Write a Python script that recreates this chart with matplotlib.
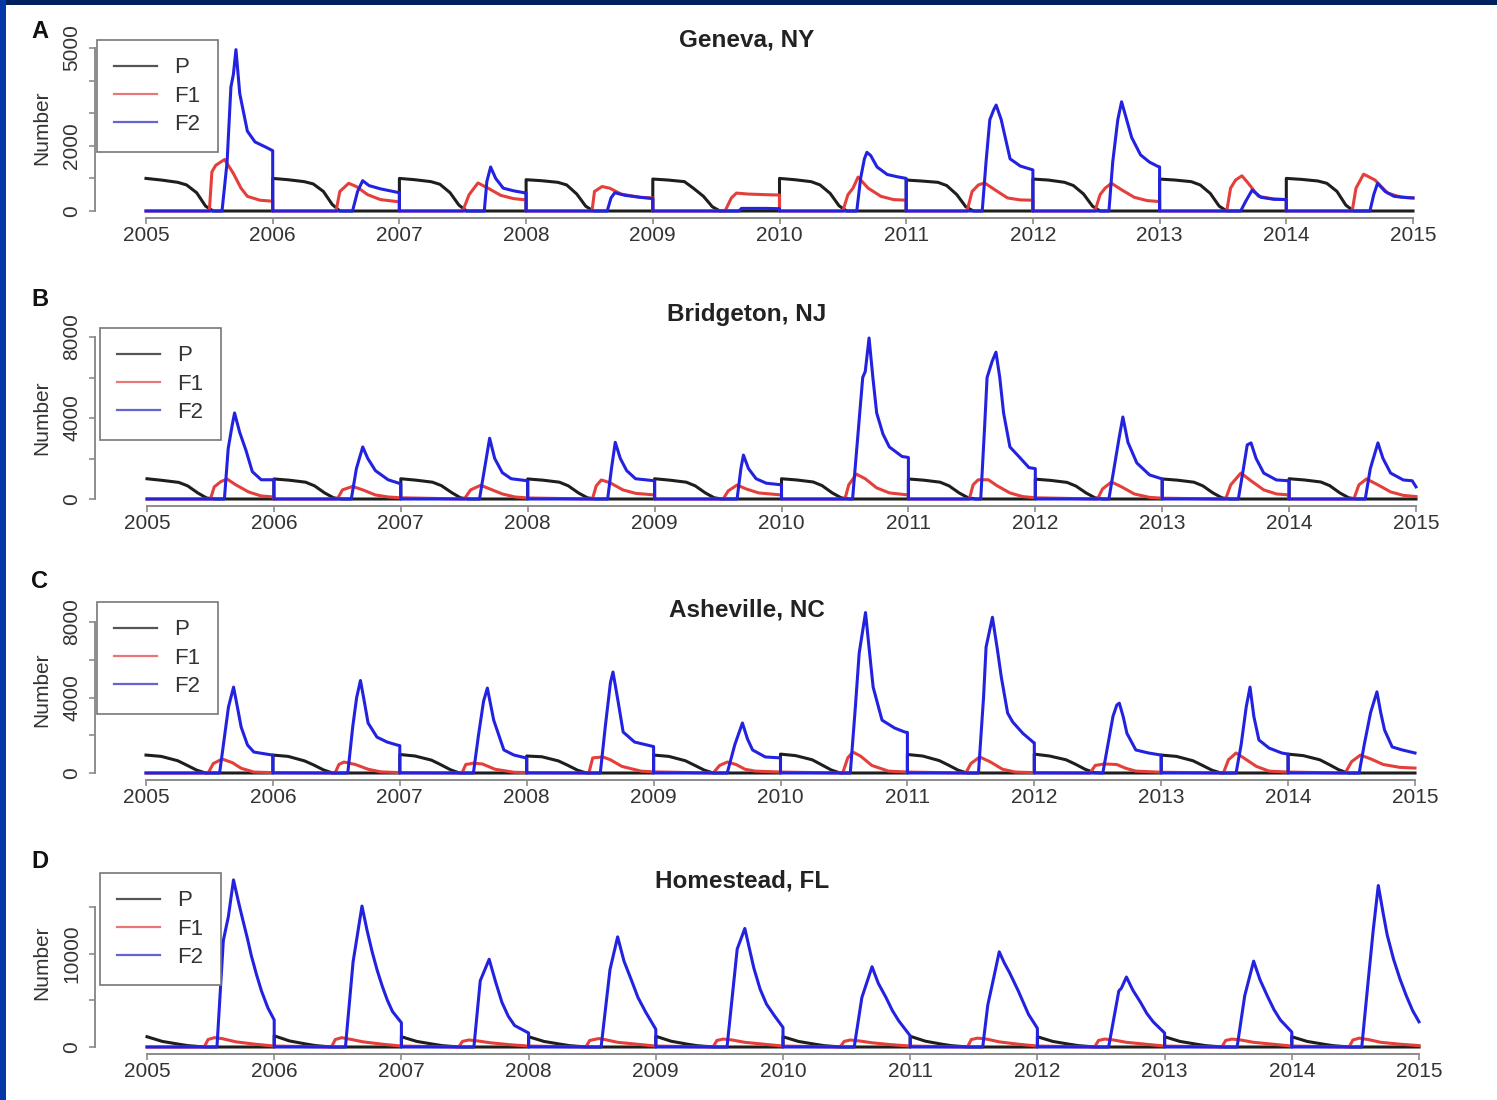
import numpy as np
import matplotlib
matplotlib.use('Agg')
import matplotlib.pyplot as plt
from matplotlib.lines import Line2D
from matplotlib.patches import Rectangle

plt.rcParams['font.family'] = ['Liberation Sans', 'DejaVu Sans']

W, H = 1497, 1100
YEARS = list(range(2005, 2015))
XTICKS = list(range(2005, 2016))

# --- data ----------------------------------------------------------------
# P: values at fixed times within each year (fraction of year)
P_T = [0, 0.12, 0.25, 0.32, 0.40, 0.47, 0.53]

A_P = [[1000, 950, 880, 800, 560, 150, 0],
       [1000, 960, 900, 830, 600, 200, 0],
       [1000, 960, 900, 820, 560, 180, 0],
       [960, 930, 880, 800, 520, 150, 0],
       [980, 950, 900, 700, 450, 130, 0],
       [1000, 960, 900, 800, 540, 160, 0],
       [950, 920, 880, 780, 500, 130, 0],
       [980, 950, 880, 780, 520, 150, 0],
       [980, 950, 900, 800, 540, 150, 0],
       [1000, 970, 920, 850, 600, 180, 0]]
A_F1 = [(2005.5, 0), (2005.52, 1200), (2005.55, 1400), (2005.62, 1580), (2005.69, 1150), (2005.75, 700),
        (2005.8, 450), (2005.9, 330), (2006.0, 300), (2006.0, 0),
        (2006.5, 0), (2006.53, 600), (2006.6, 850), (2006.66, 750), (2006.75, 500), (2006.85, 350),
        (2007.0, 280), (2007.0, 0),
        (2007.5, 0), (2007.55, 500), (2007.62, 860), (2007.7, 700), (2007.8, 480), (2007.9, 380),
        (2008.0, 340), (2008.0, 0),
        (2008.52, 0), (2008.54, 600), (2008.6, 750), (2008.66, 700), (2008.75, 520), (2008.9, 420),
        (2009.0, 400), (2009.0, 0),
        (2009.57, 0), (2009.62, 400), (2009.66, 550), (2009.75, 520), (2009.9, 500), (2010.0, 490), (2010.0, 0),
        (2010.5, 0), (2010.54, 500), (2010.58, 700), (2010.62, 1040), (2010.7, 700), (2010.8, 450),
        (2010.9, 350), (2011.0, 330), (2011.0, 0),
        (2011.48, 0), (2011.52, 600), (2011.57, 800), (2011.62, 860), (2011.7, 650), (2011.8, 400),
        (2011.9, 340), (2012.0, 330), (2012.0, 0),
        (2012.49, 0), (2012.53, 500), (2012.57, 700), (2012.62, 850), (2012.7, 650), (2012.8, 420),
        (2012.9, 320), (2013.0, 290), (2013.0, 0),
        (2013.53, 0), (2013.56, 700), (2013.6, 950), (2013.65, 1080), (2013.7, 850), (2013.78, 450),
        (2013.9, 370), (2014.0, 350), (2014.0, 0),
        (2014.52, 0), (2014.55, 700), (2014.61, 1130), (2014.7, 950), (2014.8, 550), (2014.9, 430),
        (2015.0, 400)]
A_F2 = [(2005.6, 0), (2005.64, 1500), (2005.67, 3800), (2005.69, 4200), (2005.71, 4950), (2005.74, 3600),
        (2005.8, 2450), (2005.86, 2120), (2005.95, 1950), (2006.0, 1850), (2006.0, 0),
        (2006.63, 0), (2006.67, 600), (2006.71, 930), (2006.76, 780), (2006.85, 680), (2006.95, 600),
        (2007.0, 560), (2007.0, 0),
        (2007.67, 0), (2007.69, 900), (2007.72, 1350), (2007.76, 1000), (2007.82, 700), (2007.9, 620),
        (2008.0, 550), (2008.0, 0),
        (2008.64, 0), (2008.67, 400), (2008.7, 560), (2008.78, 480), (2008.9, 420), (2009.0, 380), (2009.0, 0),
        (2009.68, 0), (2009.7, 80), (2009.9, 80), (2010.0, 70), (2010.0, 0),
        (2010.61, 0), (2010.64, 1000), (2010.67, 1600), (2010.69, 1800), (2010.72, 1700), (2010.77, 1350),
        (2010.85, 1120), (2010.93, 1050), (2011.0, 1000), (2011.0, 0),
        (2011.6, 0), (2011.63, 1500), (2011.66, 2800), (2011.69, 3100), (2011.71, 3250), (2011.75, 2800),
        (2011.82, 1600), (2011.9, 1380), (2012.0, 1260), (2012.0, 0),
        (2012.6, 0), (2012.63, 1500), (2012.67, 2800), (2012.70, 3350), (2012.74, 2800), (2012.78, 2250),
        (2012.85, 1720), (2012.92, 1500), (2012.98, 1380), (2013.0, 1350), (2013.0, 0),
        (2013.64, 0), (2013.68, 300), (2013.73, 640), (2013.8, 420), (2013.9, 360), (2014.0, 350), (2014.0, 0),
        (2014.66, 0), (2014.69, 500), (2014.72, 850), (2014.78, 600), (2014.85, 450), (2014.95, 410),
        (2015.0, 400)]

B_P = [[1000, 920, 820, 650, 300, 50, 0],
       [990, 930, 830, 650, 300, 60, 0],
       [1000, 930, 830, 660, 320, 60, 0],
       [990, 930, 830, 650, 300, 60, 0],
       [1000, 930, 830, 650, 300, 60, 0],
       [1000, 940, 840, 660, 300, 60, 0],
       [990, 930, 830, 650, 300, 60, 0],
       [980, 920, 820, 640, 300, 60, 0],
       [990, 930, 830, 650, 300, 60, 0],
       [1000, 940, 840, 660, 300, 60, 0]]
B_F1 = [(2005.5, 0), (2005.53, 600), (2005.58, 850), (2005.63, 990), (2005.7, 700), (2005.8, 350),
        (2005.9, 150), (2006.0, 100), (2006.0, 0),
        (2006.5, 0), (2006.54, 450), (2006.62, 620), (2006.7, 450), (2006.8, 200), (2006.9, 100), (2007.0, 60),
        (2007.5, 0), (2007.55, 450), (2007.63, 680), (2007.7, 500), (2007.8, 250), (2007.9, 100), (2008.0, 50),
        (2008.51, 0), (2008.54, 650), (2008.58, 940), (2008.65, 800), (2008.75, 450), (2008.85, 280),
        (2009.0, 200), (2009.0, 0),
        (2009.54, 0), (2009.58, 400), (2009.65, 690), (2009.72, 500), (2009.82, 300), (2010.0, 200), (2010.0, 0),
        (2010.5, 0), (2010.53, 700), (2010.59, 1230), (2010.66, 1000), (2010.75, 550), (2010.85, 300),
        (2011.0, 200), (2011.0, 0),
        (2011.48, 0), (2011.51, 700), (2011.55, 950), (2011.63, 950), (2011.7, 650), (2011.8, 300),
        (2011.9, 120), (2012.0, 60),
        (2012.49, 0), (2012.53, 500), (2012.6, 840), (2012.68, 600), (2012.78, 250), (2012.9, 80), (2013.0, 40),
        (2013.5, 0), (2013.54, 700), (2013.62, 1280), (2013.7, 900), (2013.8, 450), (2013.9, 250),
        (2014.0, 200), (2014.0, 0),
        (2014.51, 0), (2014.55, 700), (2014.61, 990), (2014.7, 700), (2014.8, 350), (2014.9, 180), (2015.0, 120)]
B_F2 = [(2005.61, 0), (2005.64, 2500), (2005.67, 3600), (2005.69, 4250), (2005.73, 3300), (2005.78, 2400),
        (2005.83, 1350), (2005.9, 950), (2006.0, 950), (2006.0, 0),
        (2006.61, 0), (2006.65, 1500), (2006.70, 2570), (2006.74, 2000), (2006.8, 1400), (2006.9, 950),
        (2007.0, 750), (2007.0, 0),
        (2007.62, 0), (2007.66, 1500), (2007.7, 3000), (2007.74, 2000), (2007.8, 1300), (2007.87, 1000),
        (2008.0, 900), (2008.0, 0),
        (2008.63, 0), (2008.66, 1500), (2008.69, 2800), (2008.73, 2000), (2008.78, 1400), (2008.85, 1000),
        (2009.0, 900), (2009.0, 0),
        (2009.65, 0), (2009.68, 1500), (2009.7, 2170), (2009.74, 1500), (2009.8, 1000), (2009.88, 780),
        (2010.0, 700), (2010.0, 0),
        (2010.56, 0), (2010.6, 3000), (2010.64, 6000), (2010.66, 6300), (2010.69, 7950), (2010.72, 6000),
        (2010.75, 4250), (2010.8, 3200), (2010.85, 2570), (2010.95, 2100), (2011.0, 2050), (2011.0, 0),
        (2011.57, 0), (2011.6, 3500), (2011.62, 6000), (2011.66, 6800), (2011.69, 7250), (2011.72, 6000),
        (2011.75, 4250), (2011.8, 2570), (2011.87, 2100), (2011.95, 1550), (2012.0, 1500), (2012.0, 0),
        (2012.58, 0), (2012.62, 1500), (2012.66, 3000), (2012.69, 4050), (2012.73, 2800), (2012.8, 1780),
        (2012.9, 1190), (2013.0, 990), (2013.0, 0),
        (2013.6, 0), (2013.64, 1500), (2013.67, 2670), (2013.7, 2770), (2013.74, 2000), (2013.8, 1280),
        (2013.9, 940), (2014.0, 900), (2014.0, 0),
        (2014.6, 0), (2014.64, 1500), (2014.7, 2770), (2014.74, 2000), (2014.8, 1280), (2014.9, 940),
        (2014.97, 900), (2015.0, 600)]

C_P = [[950, 880, 650, 420, 150, 0, 0],
       [950, 880, 640, 430, 160, 0, 0],
       [980, 900, 680, 450, 170, 0, 0],
       [900, 860, 640, 420, 150, 0, 0],
       [950, 880, 650, 420, 150, 0, 0],
       [1000, 920, 700, 450, 160, 0, 0],
       [980, 900, 660, 430, 150, 0, 0],
       [1000, 900, 700, 480, 200, 20, 0],
       [950, 880, 650, 420, 150, 0, 0],
       [1000, 920, 700, 460, 170, 0, 0]]
C_F1 = [(2005.49, 0), (2005.53, 500), (2005.6, 740), (2005.68, 550), (2005.75, 250), (2005.85, 50), (2006.0, 20),
        (2006.49, 0), (2006.52, 450), (2006.56, 580), (2006.65, 450), (2006.75, 200), (2006.85, 60), (2007.0, 20),
        (2007.49, 0), (2007.52, 450), (2007.58, 520), (2007.65, 480), (2007.75, 200), (2007.9, 40), (2008.0, 20),
        (2008.49, 0), (2008.52, 800), (2008.6, 850), (2008.66, 700), (2008.75, 350), (2008.9, 100), (2009.0, 60),
        (2009.47, 0), (2009.52, 400), (2009.58, 580), (2009.65, 450), (2009.72, 200), (2009.8, 100), (2010.0, 50),
        (2010.49, 0), (2010.53, 800), (2010.57, 1110), (2010.63, 900), (2010.72, 400), (2010.85, 100),
        (2011.0, 50),
        (2011.46, 0), (2011.5, 500), (2011.57, 850), (2011.65, 600), (2011.75, 200), (2011.85, 50), (2012.0, 20),
        (2012.44, 0), (2012.48, 400), (2012.55, 480), (2012.65, 450), (2012.72, 250), (2012.8, 100), (2013.0, 40),
        (2013.49, 0), (2013.53, 700), (2013.59, 1060), (2013.65, 800), (2013.75, 350), (2013.85, 100),
        (2014.0, 50),
        (2014.45, 0), (2014.5, 600), (2014.57, 950), (2014.65, 750), (2014.75, 450), (2014.88, 300),
        (2015.0, 260)]
C_F2 = [(2005.58, 0), (2005.62, 2000), (2005.65, 3500), (2005.69, 4550), (2005.72, 3500), (2005.75, 2430),
        (2005.8, 1480), (2005.85, 1110), (2005.95, 1000), (2006.0, 950), (2006.0, 0),
        (2006.59, 0), (2006.63, 2500), (2006.66, 4000), (2006.69, 4900), (2006.72, 3800), (2006.75, 2650),
        (2006.82, 1900), (2006.9, 1640), (2006.98, 1480), (2007.0, 1450), (2007.0, 0),
        (2007.58, 0), (2007.62, 2000), (2007.66, 3800), (2007.69, 4500), (2007.74, 2800), (2007.82, 1220),
        (2007.9, 950), (2008.0, 790), (2008.0, 0),
        (2008.58, 0), (2008.62, 2500), (2008.66, 4800), (2008.68, 5350), (2008.72, 3800), (2008.76, 2170),
        (2008.85, 1640), (2008.95, 1480), (2009.0, 1400), (2009.0, 0),
        (2009.58, 0), (2009.64, 1500), (2009.7, 2650), (2009.74, 1800), (2009.78, 1220), (2009.88, 850),
        (2010.0, 800), (2010.0, 0),
        (2010.55, 0), (2010.59, 3500), (2010.62, 6350), (2010.67, 8500), (2010.70, 6500), (2010.73, 4550),
        (2010.8, 2800), (2010.9, 2380), (2010.98, 2170), (2011.0, 2150), (2011.0, 0),
        (2011.56, 0), (2011.6, 4000), (2011.62, 6670), (2011.67, 8250), (2011.71, 6500), (2011.74, 5080),
        (2011.79, 3170), (2011.83, 2700), (2011.91, 2100), (2011.99, 1640), (2012.0, 1600), (2012.0, 0),
        (2012.54, 0), (2012.58, 1500), (2012.62, 3000), (2012.65, 3600), (2012.67, 3700), (2012.7, 3000),
        (2012.73, 2100), (2012.8, 1220), (2012.9, 1060), (2013.0, 950), (2013.0, 0),
        (2013.59, 0), (2013.63, 1500), (2013.67, 3500), (2013.7, 4550), (2013.73, 3000), (2013.77, 1750),
        (2013.85, 1320), (2013.95, 1060), (2014.0, 1000), (2014.0, 0),
        (2014.56, 0), (2014.6, 1500), (2014.65, 3200), (2014.7, 4300), (2014.73, 3200), (2014.76, 2280),
        (2014.82, 1380), (2014.9, 1220), (2015.0, 1060)]

D_P = [[1100, 600, 300, 150, 60, 0, 0],
       [1200, 650, 320, 160, 60, 0, 0],
       [1100, 600, 300, 150, 60, 0, 0],
       [1100, 600, 300, 150, 60, 0, 0],
       [1150, 620, 300, 150, 60, 0, 0],
       [1100, 600, 300, 150, 60, 0, 0],
       [1150, 620, 300, 150, 60, 0, 0],
       [1100, 600, 300, 150, 60, 0, 0],
       [1100, 600, 300, 150, 60, 0, 0],
       [1100, 600, 300, 150, 60, 0, 0]]
D_F1 = [(2005.45, 0), (2005.48, 800), (2005.53, 1000), (2005.59, 900), (2005.7, 550), (2005.85, 300), (2006.0, 100),
        (2006.45, 0), (2006.48, 800), (2006.53, 1000), (2006.59, 850), (2006.7, 550), (2006.85, 300), (2007.0, 100),
        (2007.45, 0), (2007.48, 600), (2007.53, 750), (2007.6, 650), (2007.7, 450), (2007.85, 250), (2008.0, 100),
        (2008.45, 0), (2008.48, 700), (2008.55, 900), (2008.6, 800), (2008.7, 500), (2008.85, 300), (2009.0, 100),
        (2009.45, 0), (2009.48, 700), (2009.53, 850), (2009.6, 750), (2009.7, 500), (2009.85, 300), (2010.0, 100),
        (2010.45, 0), (2010.48, 600), (2010.53, 750), (2010.6, 650), (2010.7, 450), (2010.85, 250), (2011.0, 100),
        (2011.45, 0), (2011.48, 800), (2011.53, 950), (2011.6, 850), (2011.7, 550), (2011.85, 300), (2012.0, 100),
        (2012.45, 0), (2012.48, 700), (2012.53, 850), (2012.6, 750), (2012.7, 500), (2012.85, 300), (2013.0, 100),
        (2013.45, 0), (2013.48, 700), (2013.53, 850), (2013.6, 750), (2013.7, 500), (2013.85, 300), (2014.0, 100),
        (2014.45, 0), (2014.48, 750), (2014.53, 950), (2014.6, 800), (2014.7, 500), (2014.85, 300), (2015.0, 150)]
D_F2 = [(2005.55, 0), (2005.6, 11400), (2005.64, 14000), (2005.68, 17900), (2005.72, 15500), (2005.75, 13800),
        (2005.79, 11600), (2005.82, 9800), (2005.86, 7800), (2005.9, 6000), (2005.95, 4200), (2006.0, 2900),
        (2006.0, 0),
        (2006.56, 0), (2006.62, 9100), (2006.69, 15100), (2006.73, 12500), (2006.77, 10200), (2006.81, 8200),
        (2006.85, 6500), (2006.89, 5000), (2006.93, 3800), (2007.0, 2600), (2007.0, 0),
        (2007.57, 0), (2007.62, 7100), (2007.69, 9400), (2007.74, 7000), (2007.79, 4800), (2007.84, 3300),
        (2007.89, 2300), (2008.0, 1500), (2008.0, 0),
        (2008.57, 0), (2008.64, 8300), (2008.70, 11800), (2008.75, 9200), (2008.81, 7100), (2008.86, 5300),
        (2008.92, 3750), (2009.0, 1900), (2009.0, 0),
        (2009.56, 0), (2009.64, 10500), (2009.70, 12700), (2009.77, 8500), (2009.82, 6200), (2009.87, 4600),
        (2009.93, 3400), (2010.0, 2100), (2010.0, 0),
        (2010.56, 0), (2010.62, 5300), (2010.70, 8600), (2010.75, 6800), (2010.81, 5300), (2010.86, 3900),
        (2010.91, 2800), (2011.0, 1200), (2011.0, 0),
        (2011.57, 0), (2011.61, 4500), (2011.65, 7000), (2011.70, 10200), (2011.74, 9000), (2011.78, 8000),
        (2011.85, 6000), (2011.93, 3500), (2012.0, 2000), (2012.0, 0),
        (2012.56, 0), (2012.64, 6000), (2012.66, 6300), (2012.70, 7500), (2012.75, 6100), (2012.81, 4800),
        (2012.86, 3600), (2012.91, 2700), (2013.0, 1500), (2013.0, 0),
        (2013.57, 0), (2013.63, 5500), (2013.70, 9200), (2013.75, 7200), (2013.81, 5400), (2013.86, 4000),
        (2013.91, 2900), (2014.0, 1600), (2014.0, 0),
        (2014.55, 0), (2014.6, 7000), (2014.64, 12500), (2014.68, 17300), (2014.72, 14200), (2014.75, 12000),
        (2014.8, 9400), (2014.85, 7300), (2014.9, 5500), (2014.95, 3900), (2015.0, 2700)]

TITLES = ['Geneva, NY', 'Bridgeton, NJ', 'Asheville, NC', 'Homestead, FL']
LETTERS = ['A', 'B', 'C', 'D']
YTICKS = [[0, 1000, 2000, 3000, 4000, 5000],
          [0, 2000, 4000, 6000, 8000],
          [0, 2000, 4000, 6000, 8000],
          [0, 5000, 10000, 15000]]
YLABELS = [['0', '', '2000', '', '', '5000'],
           ['0', '', '4000', '', '8000'],
           ['0', '', '4000', '', '8000'],
           ['0', '', '10000', '']]
SERIES = [(A_P, A_F1, A_F2), (B_P, B_F1, B_F2), (C_P, C_F1, C_F2), (D_P, D_F1, D_F2)]

# pixel layout: x of 2005, x of 2015, y of 0, y of top tick, title, legend box
LAYOUT = [dict(x0=146, x1=1413, y0=211, yt=48, title=(747, 40), letter=(40, 31), ylab=(42, 128), leg=(97, 40)),
          dict(x0=147, x1=1416, y0=499, yt=337, title=(747, 315), letter=(40, 300), ylab=(42, 418), leg=(100, 328)),
          dict(x0=146, x1=1415, y0=773, yt=622, title=(747, 610), letter=(40, 581), ylab=(42, 690), leg=(97, 602)),
          dict(x0=147, x1=1419, y0=1047, yt=907, title=(742, 881), letter=(40, 862), ylab=(42, 963), leg=(100, 873))]

C_P_COL = '#1e1e1e'
C_F1_COL = '#e43f3a'
C_F2_COL = '#2222e0'


def build_p(rows):
    xs, ys = [], []
    for y, row in zip(YEARS, rows):
        if y > 2005:
            xs.append(y)
            ys.append(0)
        for t, v in zip(P_T, row):
            xs.append(y + t)
            ys.append(v)
    xs.append(2015)
    ys.append(0)
    return xs, ys


def build_f(pts):
    pts = [(2005.0, 0)] + list(pts)
    return [p[0] for p in pts], [p[1] for p in pts]


fig = plt.figure(figsize=(W / 100, H / 100), dpi=100)
fig.patch.set_facecolor('#00205e')
fig.patches.append(Rectangle((0, 0), 6 / W, 1, transform=fig.transFigure, facecolor='#0436a8',
                             edgecolor='none', zorder=-10))
fig.patches.append(Rectangle((6 / W, 0), 1, 1 - 5 / H, transform=fig.transFigure, facecolor='white',
                             edgecolor='none', zorder=-10))

for i, lay in enumerate(LAYOUT):
    ymax = YTICKS[i][-1]
    ax = fig.add_axes([lay['x0'] / W, 1 - lay['y0'] / H, (lay['x1'] - lay['x0']) / W,
                       (lay['y0'] - lay['yt']) / H])
    ax.set_xlim(2005, 2015)
    ax.set_ylim(0, ymax)
    ax.patch.set_alpha(0)

    p_rows, f1, f2 = SERIES[i]
    px, py = build_p(p_rows)
    ax.plot(px, py, color=C_P_COL, lw=2.2, clip_on=False, zorder=3)
    x1, y1 = build_f(f1)
    ax.plot(x1, y1, color=C_F1_COL, lw=2.2, clip_on=False, zorder=4)
    x2, y2 = build_f(f2)
    ax.plot(x2, y2, color=C_F2_COL, lw=2.2, clip_on=False, zorder=5)

    for s in ['top', 'right']:
        ax.spines[s].set_visible(False)
    ax.spines['left'].set_position(('outward', (lay['x0'] - 95) * 0.72))
    ax.spines['left'].set_bounds(0, ymax)
    ax.spines['bottom'].set_position(('outward', 5))
    ax.spines['bottom'].set_bounds(2005, 2015)
    for s in ['left', 'bottom']:
        ax.spines[s].set_color('#8c8c8c')
        ax.spines[s].set_linewidth(1.4)

    ax.set_xticks(XTICKS)
    ax.set_xticklabels([str(x) for x in XTICKS])
    ax.set_yticks(YTICKS[i])
    ax.set_yticklabels(YLABELS[i], rotation=90, va='center')
    ax.tick_params(direction='out', length=4, width=1.2, color='#8c8c8c', labelcolor='#333333',
                   labelsize=15)
    ax.tick_params(axis='x', pad=2)
    ax.tick_params(axis='y', pad=6)

    handles = [Line2D([], [], color='#555555', lw=1.6),
               Line2D([], [], color='#e87878', lw=1.6),
               Line2D([], [], color='#6464d8', lw=1.6)]
    lx, ly = lay['leg']
    leg = ax.legend(handles, ['P', 'F1', 'F2'], loc='upper left',
                    bbox_to_anchor=(lx / W, 1 - ly / H), bbox_transform=fig.transFigure,
                    borderaxespad=0, fancybox=False, frameon=True, framealpha=1,
                    edgecolor='#777777', fontsize=16, handlelength=1.9, handletextpad=0.8,
                    labelspacing=0.33, borderpad=0.78)
    leg.get_frame().set_linewidth(1.2)
    for t in leg.get_texts():
        t.set_color('#333333')

    tx, ty = lay['title']
    fig.text(tx / W, 1 - ty / H, TITLES[i], ha='center', va='center', fontsize=17.5,
             fontweight='bold', color='#222222')
    lx2, ly2 = lay['letter']
    fig.text(lx2 / W, 1 - ly2 / H, LETTERS[i], ha='center', va='center', fontsize=17,
             fontweight='bold', color='#111111')
    yx, yy = lay['ylab']
    fig.text(yx / W, 1 - yy / H, 'Number', ha='center', va='center', rotation=90, fontsize=15,
             color='#333333')

fig.savefig('out.png', dpi=100, facecolor=fig.get_facecolor())
